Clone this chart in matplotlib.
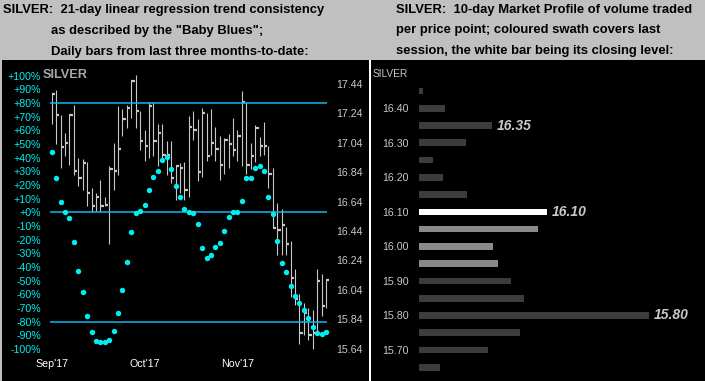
import matplotlib
matplotlib.use('Agg')
import numpy as np
import matplotlib.pyplot as plt
from matplotlib.patches import Rectangle
from matplotlib.ticker import FuncFormatter

# daily bars, Sep'17 .. Nov'17 (high, low, close)
highs = [17.38, 17.40, 17.23, 17.11, 17.23, 17.30, 16.94, 16.93, 16.91, 16.73,
         16.70, 16.79, 16.67, 16.88, 17.04, 17.29, 17.27, 17.30, 17.46, 17.50,
         17.26, 17.13, 17.32, 17.32, 17.17, 17.17, 17.05, 17.05, 16.88, 16.90,
         16.91, 17.22, 17.26, 17.20, 17.28, 17.24, 17.27, 17.15, 17.09, 17.07,
         17.10, 17.21, 17.13, 17.39, 17.32, 17.04, 17.16, 17.08, 17.18, 17.02,
         16.87, 16.63, 16.59, 16.47, 16.37, 16.18, 16.01, 15.95, 15.92, 15.90,
         16.18, 16.15, 16.11]
lows = [17.17, 17.03, 16.87, 16.95, 16.89, 16.82, 16.75, 16.72, 16.61, 16.57,
        16.58, 16.57, 16.61, 16.35, 16.72, 16.82, 17.09, 17.14, 17.21, 17.14,
        16.99, 16.92, 16.94, 16.95, 16.88, 16.92, 16.82, 16.77, 16.65, 16.70,
        16.65, 16.67, 17.06, 16.78, 16.81, 16.92, 16.96, 16.92, 16.79, 16.83,
        16.87, 16.95, 16.92, 16.88, 16.83, 16.86, 16.91, 16.95, 16.96, 16.73,
        16.46, 16.28, 16.28, 16.28, 15.99, 15.94, 15.67, 15.73, 15.70, 15.64,
        15.74, 15.86, 15.92]
closes = [17.37, 17.23, 17.01, 17.04, 17.23, 16.85, 16.80, 16.90, 16.70, 16.61,
          16.67, 16.61, 16.62, 16.86, 16.85, 17.00, 17.20, 17.28, 17.46, 17.26,
          17.05, 17.02, 17.29, 17.05, 17.11, 16.96, 16.96, 16.80, 16.88, 16.87,
          16.72, 17.15, 17.13, 16.84, 17.24, 16.95, 17.04, 17.00, 16.89, 17.06,
          17.03, 16.99, 17.09, 17.32, 16.89, 16.95, 17.14, 17.02, 17.02, 16.83,
          16.46, 16.45, 16.48, 16.35, 16.12, 15.98, 15.75, 15.88, 15.73, 15.75,
          16.10, 15.93, 16.11]
# "Baby Blues": 21-day linear regression trend consistency, %
baby_blues = [44.3, 25.3, 7.7, 0.0, -3.8, -21.5, -42.7, -58.0, -75.6, -87.3,
              -93.9, -94.8, -94.8, -93.1, -86.5, -73.4, -56.6, -36.1, -14.2, -0.3,
              1.2, 5.6, 16.5, 26.0, 30.4, 38.5, 40.6, 31.9, 19.2, 11.0,
              2.4, 0.2, -0.5, -8.3, -25.9, -33.2, -31.0, -25.1, -22.2, -13.5,
              -3.2, 0.4, 0.4, 8.3, 25.3, 25.3, 32.6, 34.1, 30.4, 11.4,
              -1.0, -21.0, -37.3, -43.4, -53.9, -61.2, -66.1, -71.6, -77.3, -83.8,
              -88.0, -89.0, -87.3]
month_labels = ["Sep'17", "Oct'17", "Nov'17"]
month_starts = [0, 21, 42]
band_levels = [80, 0, -80]
pct_ticks = list(range(-100, 101, 10))
price_ticks = [15.64, 15.84, 16.04, 16.24, 16.44, 16.64, 16.84, 17.04, 17.24, 17.44]

# 10-day market profile
profile_prices = [16.45, 16.40, 16.35, 16.30, 16.25, 16.20, 16.15, 16.10, 16.05,
                  16.00, 15.95, 15.90, 15.85, 15.80, 15.75, 15.70, 15.65]
profile_volume = [4, 26, 73, 47, 14, 24, 48, 128, 119, 74, 79, 92, 105, 230, 101, 69, 21]
swath_prices = [16.10, 16.05, 16.00, 15.95]
last_close = 16.10
marked_prices = [16.35, 16.10, 15.80]
profile_ticks = [16.40, 16.30, 16.20, 16.10, 16.00, 15.90, 15.80, 15.70]

W, H = 705, 381
FONT = 'Liberation Sans'
GREY_BG = '#c0c0c0'
CYAN = '#00eef0'
LINE = '#10b8f0'
BAR = '#c8c8c8'


def px_rect(x0, y0, x1, y1):
    # pixel box (top-left origin) -> figure fraction [l, b, w, h]
    return [x0 / W, 1 - y1 / H, (x1 - x0) / W, (y1 - y0) / H]


plt.rcParams['font.family'] = FONT
plt.rcParams['text.color'] = 'black'
fig = plt.figure(figsize=(W / 100, H / 100), dpi=100, facecolor=GREY_BG)

for x0, x1, c in [(1.5, 369, 'black'), (369, 371, 'white'), (371, 705, 'black')]:
    l, b, w, h = px_rect(x0, 60, x1, H)
    fig.add_artist(Rectangle((l, b), w, h, transform=fig.transFigure,
                             facecolor=c, edgecolor='none', zorder=0))

left_head = ['SILVER:  21-day linear regression trend consistency',
             'as described by the "Baby Blues";',
             'Daily bars from last three months-to-date:']
right_head = ['SILVER:  10-day Market Profile of volume traded',
              'per price point; coloured swath covers last',
              'session, the white bar being its closing level:']
for (x, y), s in zip([(3, 10), (51, 31), (51, 51.5)], left_head):
    fig.text(x / W, 1 - y / H, s, fontsize=9.4, fontweight='bold',
             color='black', va='center')
for (x, y), s in zip([(396, 10), (396, 30.5), (396, 51)], right_head):
    fig.text(x / W, 1 - y / H, s, fontsize=9.4, fontweight='bold',
             color='black', va='center')

# left panel: trend consistency + price bars
n = len(closes)
x = np.arange(n)
ax = fig.add_axes(px_rect(48, 62, 330, 356))
ax2 = ax.twinx()
ax.set_zorder(ax2.get_zorder() + 1)
ax.patch.set_visible(False)
ax2.patch.set_visible(False)

ax2.vlines(x, lows, highs, color=BAR, lw=0.8)
ax2.hlines(closes, x, x + 0.75, color=BAR, lw=1.6)
ax.hlines(band_levels, -0.4, n - 0.8, color=LINE, lw=1.1)
ax.plot(x, baby_blues, 'o', color=CYAN, ms=3.9, mew=0)

ax.set_xlim(-0.836, 62.91)
ax.set_ylim(-105.04, 109.87)
ax2.set_ylim(15.5903, 17.5903)
ax.set_yticks(pct_ticks)
ax.yaxis.set_major_formatter(FuncFormatter(lambda v, p: f'{v:+.0f}%'))
ax2.set_yticks(price_ticks)
ax2.yaxis.set_major_formatter(FuncFormatter(lambda v, p: f'{v:.2f}'))
ax.set_xticks(month_starts, month_labels)
ax.tick_params(axis='y', length=0, pad=5, labelcolor=CYAN, labelsize=7.7)
ax.tick_params(axis='x', length=0, pad=2.5, labelcolor='white', labelsize=7.7)
ax2.tick_params(axis='y', length=0, pad=4.3, labelcolor=BAR, labelsize=7.7)
for a in (ax, ax2):
    for sp in a.spines.values():
        sp.set_visible(False)
fig.text(42.5 / W, 1 - 75 / H, 'SILVER', fontsize=9.2, fontweight='bold',
         color='#a8a8a8', va='center')

# right panel: market profile
ax3 = fig.add_axes(px_rect(419, 62, 700, 376))
ax3.patch.set_visible(False)
colors = []
for p in profile_prices:
    if abs(p - last_close) < 1e-6:
        colors.append('white')
    elif any(abs(p - s) < 1e-6 for s in swath_prices):
        colors.append('#8a8a8a')
    else:
        colors.append('#3c3c3c')
ax3.barh(profile_prices, profile_volume, height=0.0194, color=colors)
for p in marked_prices:
    v = profile_volume[profile_prices.index(p)]
    ax3.annotate(f'{p:.2f}', (v, p), xytext=(3.5, 0), textcoords='offset points',
                 va='center', ha='left', fontsize=10, fontweight='bold',
                 style='italic', color='#c8c8c8')
ax3.set_xlim(0, 281)
ax3.set_ylim(15.6247, 16.534)
ax3.set_xticks([])
ax3.set_yticks(profile_ticks)
ax3.yaxis.set_major_formatter(FuncFormatter(lambda v, p: f'{v:.2f}'))
ax3.tick_params(axis='y', length=0, pad=7.2, labelcolor=BAR, labelsize=7.7)
for sp in ax3.spines.values():
    sp.set_visible(False)
fig.text(373 / W, 1 - 74 / H, 'SILVER', fontsize=7.3, color=BAR, va='center')

fig.savefig('out.png', dpi=100, facecolor=GREY_BG)
